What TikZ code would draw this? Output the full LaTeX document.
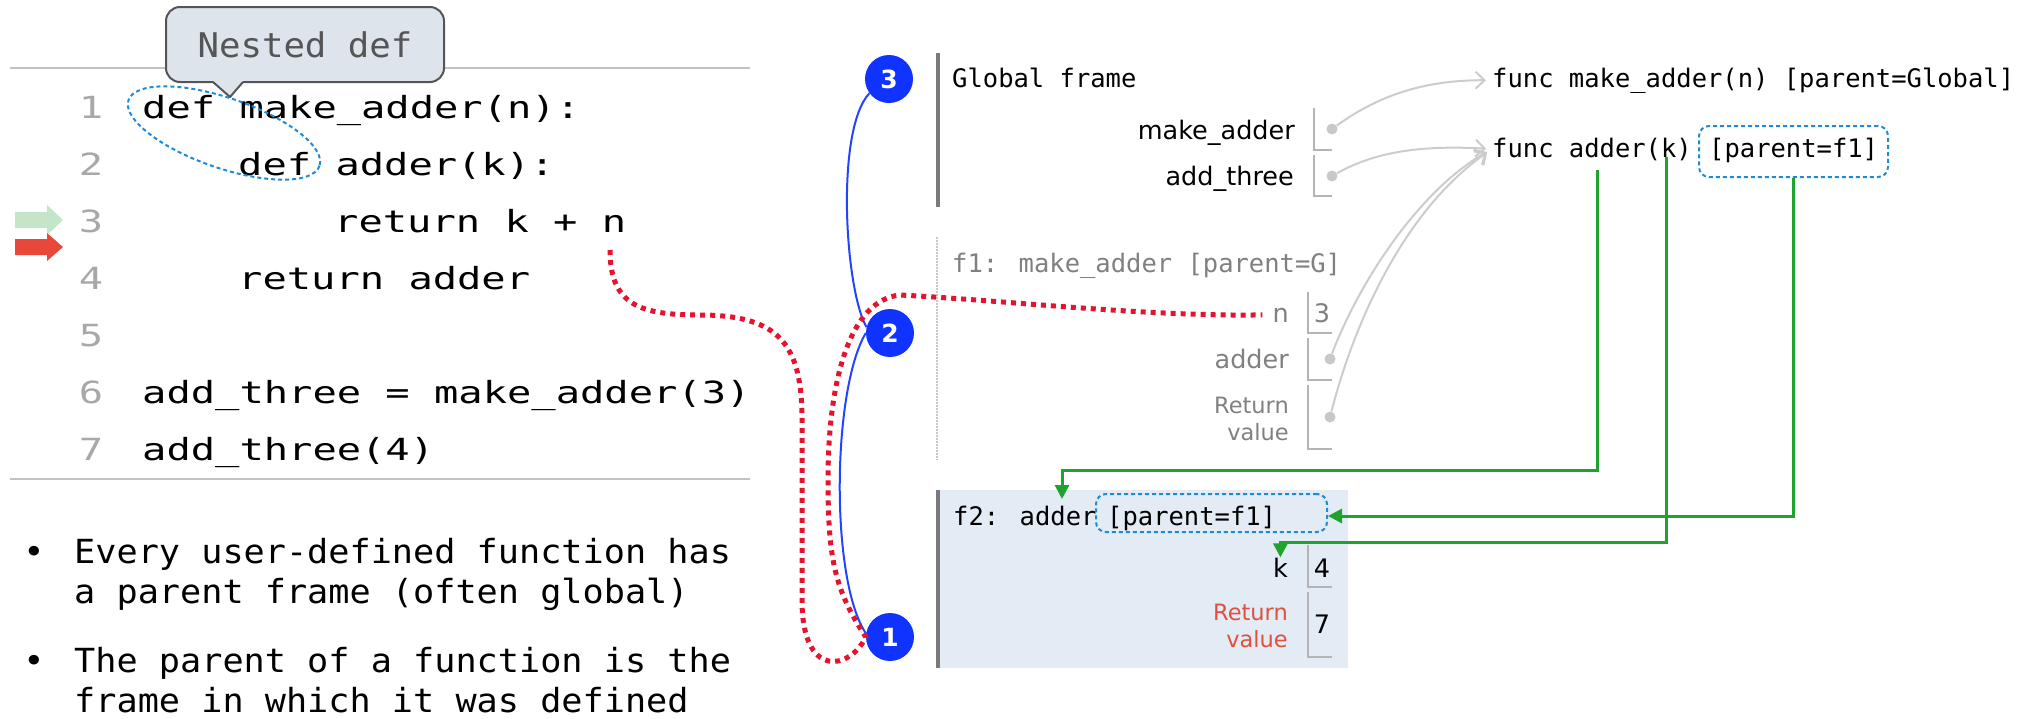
\documentclass[tikz,border=0pt]{standalone}
\usepackage{fontspec}
\usetikzlibrary{arrows.meta,fit,calc}
\newfontfamily\codefont{DejaVu Sans Mono}[FakeStretch=1.325]
\newfontfamily\bulfont{DejaVu Sans Mono}[FakeStretch=1.06]
\newfontfamily\nestfont{DejaVu Sans Mono}[FakeStretch=1.05]
\newfontfamily\frmfont{DejaVu Sans Mono}
\newfontfamily\lblfont{DejaVu Sans}
\definecolor{lnum}{HTML}{A8A8A8}
\definecolor{rulegray}{HTML}{C2C2C2}
\definecolor{boxgray}{HTML}{B4B4B4}
\definecolor{dotgray}{HTML}{C8C8C8}
\definecolor{arrgray}{HTML}{CCCCCC}
\definecolor{f1gray}{HTML}{808080}
\definecolor{bargray}{HTML}{7A7A7A}
\definecolor{grnline}{HTML}{1FA22E}
\definecolor{cblue}{HTML}{1133FF}
\definecolor{bline}{HTML}{2244FF}
\definecolor{reddot}{HTML}{E5132E}
\definecolor{pblue}{HTML}{1F8AD8}
\definecolor{f2bg}{HTML}{E3EBF5}
\definecolor{rvred}{HTML}{E0503F}
\definecolor{callfill}{HTML}{DDE4EC}
\definecolor{calldraw}{HTML}{555555}
\definecolor{arrgreen}{HTML}{C5E5C8}
\definecolor{arrred}{HTML}{E8473A}
\begin{document}
\begin{tikzpicture}[x=1pt,y=-1pt,
  code/.style={anchor=base west, inner sep=0pt, font=\codefont\fontsize{30.5}{36}\selectfont},
  lno/.style={anchor=base, inner sep=0pt, text=lnum, font=\codefont\fontsize{30.5}{36}\selectfont},
  bul/.style={anchor=base west, inner sep=0pt, font=\bulfont\fontsize{33.2}{40}\selectfont},
  frm/.style={anchor=base west, inner sep=0pt, font=\frmfont\fontsize{25.5}{30}\selectfont},
  lbl/.style={anchor=base east, inner sep=0pt, font=\lblfont\fontsize{25.5}{30}\selectfont},
  rv/.style={anchor=base east, inner sep=0pt, font=\lblfont\fontsize{22.5}{27}\selectfont},
  val/.style={anchor=base, inner sep=0pt, font=\lblfont\fontsize{25.5}{30}\selectfont},
  vbox/.style={draw=boxgray, line width=1.5pt},
  dotn/.style={circle, fill=dotgray, inner sep=0pt, minimum size=11pt},
  ptr/.style={draw=arrgray, line width=2pt, shorten >=6pt, -{Straight Barb[length=9pt,width=17pt]}},
  grn/.style={draw=grnline, line width=3pt, -{Triangle[length=14pt,width=14pt]}},
  circ/.style={circle, fill=cblue, text=white, inner sep=0pt, minimum size=48pt, font=\lblfont\bfseries\fontsize{25}{25}\selectfont},
  reddotted/.style={draw=reddot, line width=5pt, dash pattern=on 5pt off 5pt},
  blueline/.style={draw=bline, line width=2pt},
  pbox/.style={draw=pblue, line width=2pt, dash pattern=on 4pt off 3pt, rounded corners=10pt, inner sep=0pt},
  rulel/.style={draw=rulegray, line width=2.5pt},
  framebar/.style={draw=bargray, line width=3.5pt},
]
\useasboundingbox (0,0) rectangle (2021,718);

% ---------- left panel ----------
\draw[rulel] (10,68) -- (750,68);
\draw[rulel] (10,479) -- (750,479);

% step arrows
\fill[arrgreen] (15,212) -- (47,212) -- (47,205) -- (63,220) -- (47,235) -- (47,228) -- (15,228) -- cycle;
\fill[arrred] (15,239) -- (47,239) -- (47,233) -- (63,247) -- (47,261) -- (47,255) -- (15,255) -- cycle;

% line numbers
\foreach \i/\y in {1/118,2/175,3/232,4/289,5/346,6/403,7/460}
  \node[lno] (ln\i) at (91,\y) {\i};

% code
\node[code] (c1l) at (142,118) {def make\_adder(n):};
\node[code] (c2l) at (238,175) {def adder(k):};
\node[code] (c3l) at (334,232) {return k + n};
\node[code] (c4l) at (238,289) {return adder};
\node[code] (c6l) at (142,403) {add\_three = make\_adder(3)};
\node[code] (c7l) at (142,460) {add\_three(4)};

% nested def callout
\node[draw=calldraw, fill=callfill, line width=2pt, rounded corners=14pt,
      minimum width=278pt, minimum height=75pt, inner sep=0pt,
      text=calldraw, font=\nestfont\fontsize{34}{40}\selectfont] (nest) at (305,44.5) {Nested def};
\fill[callfill] (212,80) -- (230,97) -- (244,80) -- cycle;
\draw[draw=calldraw, line width=2pt, line join=round] (213,82) -- (230,97) -- (243,82);

% dashed ellipse
\draw[draw=pblue, line width=2pt, dash pattern=on 4pt off 3pt] (224,133) ellipse [x radius=101, y radius=35, rotate=-19];

% bullets
\node[bul, anchor=base] (b1dot) at (34,563) {•};
\node[bul] (b1a) at (74,563) {Every user-defined function has};
\node[bul] (b1b) at (74,603) {a parent frame (often global)};
\node[bul, anchor=base] (b2dot) at (34,672) {•};
\node[bul] (b2a) at (74,672) {The parent of a function is the};
\node[bul] (b2b) at (74,712) {frame in which it was defined};

% ---------- frames ----------
\fill[f2bg] (937,490) rectangle (1348,668);
\draw[framebar] (938,53) -- (938,207);
\draw[draw=dotgray, line width=1.5pt, dash pattern=on 1.5pt off 1.5pt] (937,237) -- (937,460);
\draw[framebar] (938,490) -- (938,668);

% Global frame
\node[frm] (gft) at (952,87) {Global frame};
\node[lbl] (gmal) at (1295,139) {make\_adder};
\node[lbl] (gatl) at (1294,185) {add\_three};
\draw[vbox] (1314,108) -- (1314,150) -- (1332,150);
\draw[vbox] (1314,155) -- (1314,196) -- (1332,196);
\node[dotn] (gma) at (1332,129) {};
\node[dotn] (gat) at (1332,176) {};

% f1 frame
\node[frm, text=f1gray] (f1t) at (952,272) {f1: make\_adder [parent=G]};
\node[lbl, text=f1gray] (f1n) at (1289,322) {n};
\node[val, text=f1gray] (f1nv) at (1322,322) {3};
\node[lbl, text=f1gray] (f1ad) at (1289,368) {adder};
\node[rv, text=f1gray] (f1r1) at (1289,413) {Return};
\node[rv, text=f1gray] (f1r2) at (1289,440) {value};
\draw[vbox] (1308,292) -- (1308,333) -- (1332,333);
\draw[vbox] (1308,338) -- (1308,380) -- (1332,380);
\draw[vbox] (1308,385) -- (1308,449) -- (1332,449);
\node[dotn] (f1add) at (1330,359) {};
\node[dotn] (f1rvd) at (1330,417) {};

% f2 frame
\node[frm] (f2t) at (953,525) {f2: adder};
\node[frm] (f2pt) at (1107,525) {[parent=f1]};
\node[pbox, fit={(1096,494) (1327,532)}] (f2p) {};
\node[lbl] (f2k) at (1288,577) {k};
\node[val] (f2kv) at (1322,577) {4};
\node[rv, text=rvred] (f2r1) at (1288,620) {Return};
\node[rv, text=rvred] (f2r2) at (1288,647) {value};
\node[val] (f2rv) at (1322,633) {7};
\draw[vbox] (1308,545) -- (1308,587) -- (1332,587);
\draw[vbox] (1308,592) -- (1308,657) -- (1332,657);

% function objects
\node[frm] (fma) at (1492,87) {func make\_adder(n) [parent=Global]};
\node[frm] (fad) at (1492,157) {func adder(k)};
\node[frm] (fapt) at (1709,157) {[parent=f1]};
\node[pbox, fit={(1699,126) (1888,177)}] (fap) {};

% pointers
\draw[ptr] (gma) .. controls (1375,98) and (1420,80) .. (fma.west);
\draw[ptr] (gat) .. controls (1375,152) and (1420,145) .. (fad.west);
\draw[ptr] (f1add) .. controls (1360,280) and (1420,190) .. (fad.west);
\draw[ptr] (f1rvd) .. controls (1355,320) and (1405,210) .. (fad.west);

% green connectors
\coordinate (gA) at (1597,170);
\coordinate (gB) at (1666,157);
\coordinate (f2top) at (1062,499);
\draw[grn] (gA) -- (1597,470) -| (f2top);
\draw[grn] (gB) -- (1666,542) -| (f2k.north);
\draw[grn] (fap.south) |- ($(f2p.east)+(0,3)$);

% step circles
\node[circ] (s3) at (889,79) {3};
\node[circ] (s2) at (890,333) {2};
\node[circ] (s1) at (890,637) {1};

% blue lines
\draw[blueline] (s1.172) .. controls (830,580) and (832,390) .. (s2.180);
\draw[blueline] (s2.166) .. controls (845,290) and (835,130) .. (s3.216);

% red dotted path
\coordinate (codeN) at (610,250);
\draw[reddotted] (codeN) .. controls (610,305) and (640,315) .. (700,315)
  .. controls (780,315) and (802,345) .. (802,420)
  -- (802,600)
  .. controls (802,680) and (850,670) .. (s1.west)
  .. controls (835,590) and (828,560) .. (828,480)
  .. controls (828,380) and (850,300) .. (900,295)
  .. controls (1000,300) and (1150,317) .. ($(f1n.west)+(-10,0)$);
\end{tikzpicture}
\end{document}
